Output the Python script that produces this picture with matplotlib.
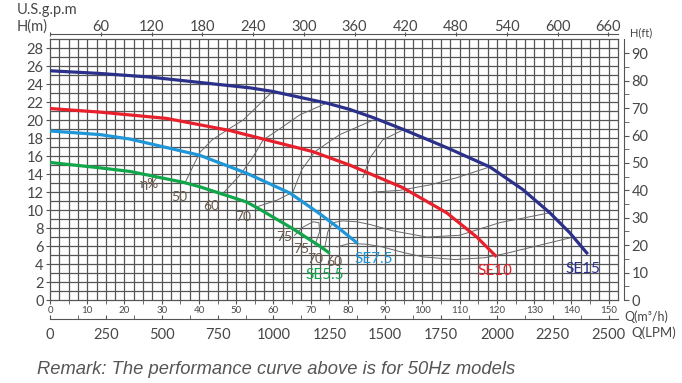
import matplotlib
matplotlib.use("Agg")
import matplotlib.pyplot as plt
from matplotlib.ticker import MultipleLocator, FixedLocator
import numpy as np

plt.rcParams["font.family"] = ["Lato", "DejaVu Sans"]

# pump curves, Q in m3/h, H in m
se15_q = [0, 13.4, 26.8, 40.2, 53.7, 59.8, 74.3, 80.5, 86.7, 94.7, 106.8, 118.1, 126.9, 134.2, 139.5, 144.4]
se15_h = [25.5, 25.2, 24.8, 24.2, 23.6, 23.2, 21.9, 21.2, 20.3, 19.0, 16.9, 14.8, 12.3, 9.7, 7.5, 5.1]
se10_q = [0, 13.4, 31.3, 48.3, 70.6, 80.5, 94.7, 106.5, 114.6, 119.9]
se10_h = [21.3, 20.9, 20.2, 18.85, 16.5, 15.0, 12.5, 9.7, 7.0, 4.8]
se75_q = [0, 13.4, 21.5, 40.2, 52.8, 64.4, 72.4, 76.9, 82.6]
se75_h = [18.8, 18.4, 17.9, 16.1, 14.1, 11.9, 9.6, 8.2, 6.3]
se55_q = [0, 13.4, 21.5, 35.7, 40.2, 52.8, 56.3, 65.3, 72.4, 75.1]
se55_h = [15.3, 14.7, 14.3, 13.1, 12.6, 10.9, 10.1, 7.9, 6.0, 5.2]

# efficiency lines
eff_a_q = [36.2, 40.2, 43.5, 47.5, 51.8, 59.8]
eff_a_h = [13.0, 16.4, 17.8, 18.9, 20.0, 23.2]
eff_b_q = [46.1, 51.0, 54.5, 57.2, 61.2, 67.1, 74.3]
eff_b_h = [11.7, 13.9, 15.9, 17.8, 18.9, 20.6, 21.9]
eff_c_q = [55.8, 60.9, 65.2, 67.6, 71.1, 77.8, 86.7]
eff_c_h = [10.4, 11.1, 12.0, 14.5, 16.5, 18.4, 20.0]
eff_d_q = [65.7, 67.9, 70.6, 72.2, 72.4, 71.1]
eff_d_h = [7.2, 8.1, 8.7, 8.6, 7.6, 6.1]
eff_e_q = [84.0, 85.9, 89.3, 94.7]
eff_e_h = [13.6, 15.8, 17.8, 18.9]
eff_f_q = [86.7, 93.9, 102.0, 109.2, 117.3]
eff_f_h = [12.0, 12.2, 12.8, 13.6, 14.7]
eff_g_q = [73.8, 74.6, 75.9, 78.6, 82.4, 85.9, 92.0, 101.2, 110.0, 120.7, 134.2]
eff_g_h = [5.9, 7.6, 8.6, 8.8, 8.7, 8.4, 7.7, 7.0, 7.2, 8.6, 9.7]
eff_h_q = [77.0, 80.5, 85.1, 89.3, 94.7, 100.1, 108.7, 116.7, 122.6, 131.5, 139.5]
eff_h_h = [5.9, 6.3, 6.2, 5.9, 5.3, 4.8, 4.5, 4.7, 5.2, 6.1, 6.9]

eff_labels = ["η%", "50", "60", "70", "75", "75", "70", "60"]
eff_label_q = [26.8, 34.6, 43.2, 51.9, 62.8, 67.5, 71.1, 76.2]
eff_label_h = [12.9, 11.5, 10.5, 9.2, 7.0, 5.7, 4.6, 4.2]

pump_names = ["SE5.5", "SE7.5", "SE10", "SE15"]
pump_colors = ["#12a64b", "#1f96d8", "#e8202c", "#2b318a"]

Q_MAX = 152.5
H_MAX = 29
GRID = "#555555"
TXT = "#474747"

fig = plt.figure(figsize=(6.82, 3.83), dpi=100)
ax = fig.add_axes([50/682, 83/383, 568/682, 260.7/383])
ax.set_xlim(0, Q_MAX)
ax.set_ylim(0, H_MAX)

for x in np.arange(2.5, Q_MAX, 2.5):
    ax.axvline(x, color=GRID, lw=0.9, zorder=1)
for y in np.arange(1, H_MAX, 1):
    ax.axhline(y, color=GRID, lw=0.9, zorder=1)
for s in ax.spines.values():
    s.set_color(GRID)
    s.set_linewidth(0.9)

# bottom Q(m3/h) axis
ax.xaxis.set_major_locator(MultipleLocator(10))
ax.xaxis.set_minor_locator(MultipleLocator(5))
ax.tick_params(axis="x", which="both", direction="out", length=3, color=GRID,
               labelsize=7, labelcolor=TXT, pad=1.5)
ax.yaxis.set_major_locator(MultipleLocator(2))
ax.tick_params(axis="y", direction="out", length=3, color=GRID,
               labelsize=10.5, labelcolor=TXT, pad=1.5)

# efficiency lines
for q, h in [(eff_a_q, eff_a_h), (eff_b_q, eff_b_h), (eff_c_q, eff_c_h),
             (eff_d_q, eff_d_h), (eff_e_q, eff_e_h), (eff_f_q, eff_f_h),
             (eff_g_q, eff_g_h), (eff_h_q, eff_h_h)]:
    ax.plot(q, h, color="#666666", lw=0.7, zorder=2)
for t, q, h in zip(eff_labels, eff_label_q, eff_label_h):
    ax.text(q, h, t, ha="center", va="center", fontsize=10, color="#6b5a4c", zorder=5)

# pump curves
curves = [(se55_q, se55_h), (se75_q, se75_h), (se10_q, se10_h), (se15_q, se15_h)]
for (q, h), c in zip(curves, pump_colors):
    ax.plot(q, h, color=c, lw=2.3, zorder=4, solid_capstyle="butt", solid_joinstyle="round")
for name, c, pos in zip(pump_names, pump_colors,
                        [(73.8, 2.8), (86.9, 4.6), (119.4, 3.2), (143.0, 3.5)]):
    ax.text(pos[0], pos[1], name, ha="center", va="center", fontsize=11, color=c, zorder=5)

# right H(ft) axis
axr = ax.twinx()
axr.set_ylim(0, H_MAX * 3.28084)
for k in ["top", "bottom", "left"]:
    axr.spines[k].set_visible(False)
axr.spines["right"].set_position(("outward", 4.3))
axr.spines["right"].set_color(GRID)
axr.yaxis.set_major_locator(FixedLocator(np.arange(0, 91, 10)))
axr.yaxis.set_minor_locator(FixedLocator(np.arange(5, 90, 10)))
axr.tick_params(axis="y", which="both", direction="out", length=3.5, color=GRID,
                labelsize=10.5, labelcolor=TXT, pad=2)

# top U.S.g.p.m axis
axt = ax.twiny()
axt.set_xlim(0, Q_MAX * 4.40287)
for k in ["right", "bottom", "left"]:
    axt.spines[k].set_visible(False)
axt.spines["top"].set_position(("outward", 3.6))
axt.spines["top"].set_color(GRID)
gpm_ticks = np.arange(0, 661, 60)
axt.set_xticks(gpm_ticks)
axt.set_xticklabels([""] + [str(v) for v in gpm_ticks[1:]])
axt.tick_params(axis="x", direction="inout", length=3, color=GRID,
                labelsize=10.5, labelcolor=TXT, pad=-1)

# bottom LPM axis
axb = ax.twiny()
axb.set_xlim(0, Q_MAX * 1000 / 60)
axb.xaxis.set_ticks_position("bottom")
axb.xaxis.set_label_position("bottom")
for k in ["right", "top", "left"]:
    axb.spines[k].set_visible(False)
axb.spines["bottom"].set_position(("outward", 13.7))
axb.spines["bottom"].set_color(GRID)
axb.xaxis.set_major_locator(MultipleLocator(250))
axb.xaxis.set_minor_locator(MultipleLocator(125))
axb.tick_params(axis="x", which="both", direction="in", length=3, color=GRID,
                labelsize=10.5, labelcolor=TXT, pad=6.5)

# axis titles
fig.text(17/682, 1 - 10/383, "U.S.g.p.m", fontsize=10.5, color=TXT, va="center")
fig.text(17/682, 1 - 27/383, "H(m)", fontsize=10.5, color=TXT, va="center")
fig.text(630/682, 1 - 33/383, "H(ft)", fontsize=8, color=TXT, va="center")
fig.text(624/682, 1 - 317/383, "Q(m³/h)", fontsize=9, color=TXT, va="center")
fig.text(631/682, 1 - 333/383, "Q(LPM)", fontsize=9.5, color=TXT, va="center")
fig.text(37/682, 1 - 370/383, "Remark: The performance curve above is for 50Hz models",
         fontsize=13.2, color="#555555", style="italic", family="Liberation Sans", va="center")

fig.savefig("out.png", dpi=100)
